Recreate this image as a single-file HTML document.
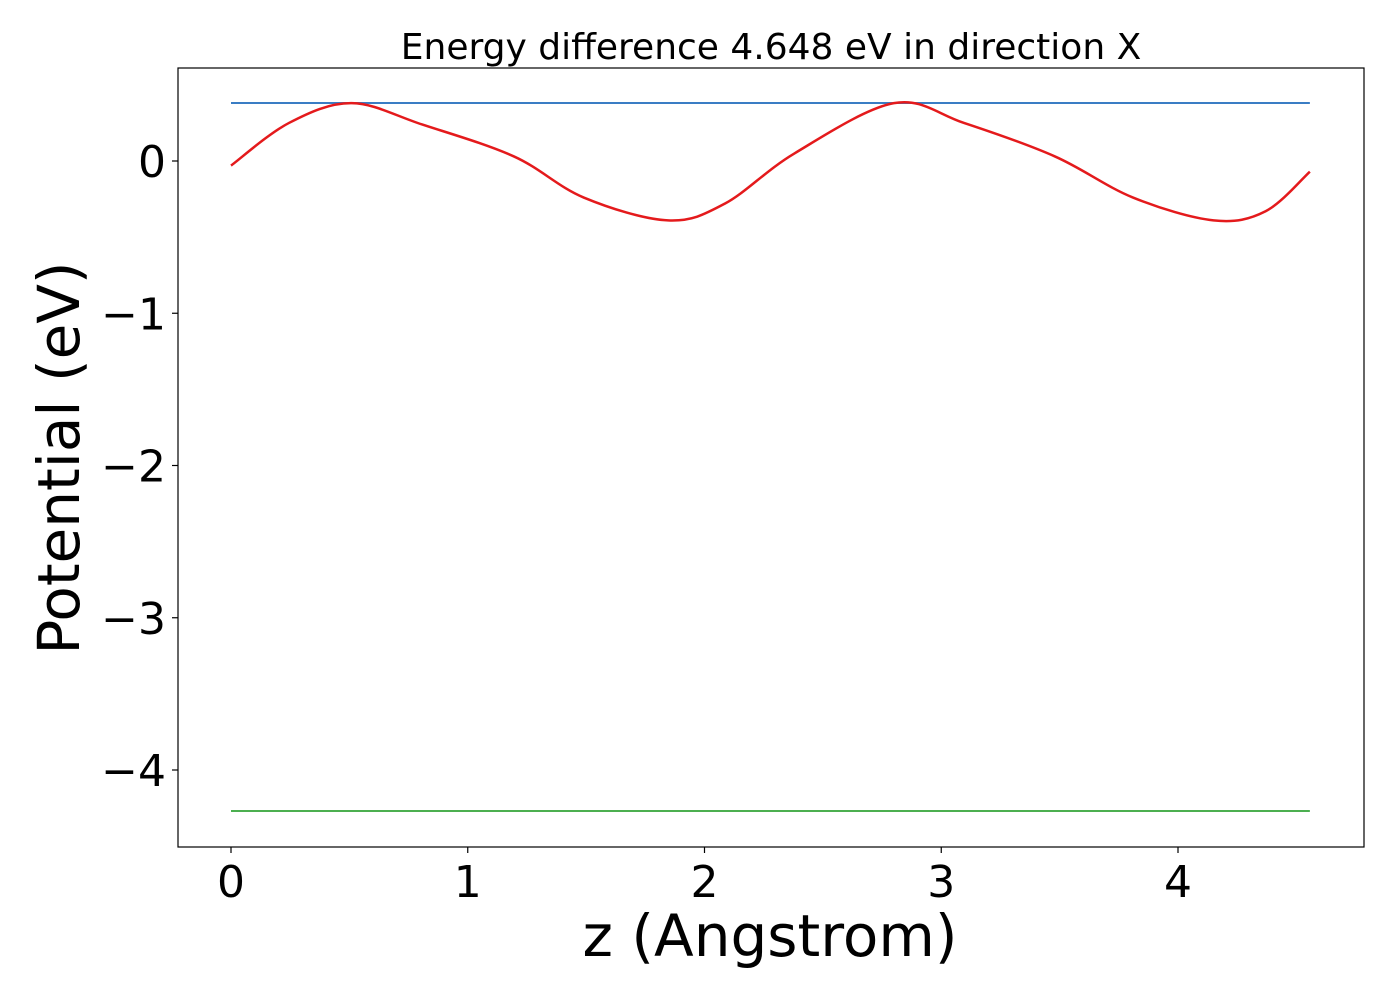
<!DOCTYPE html>
<html><head><meta charset="utf-8"><style>
body{margin:0;background:#fff;}
svg text{font-family:"DejaVu Sans","Liberation Sans",sans-serif;fill:#000;}
</style></head><body>
<svg id="chart" width="1400" height="1000" xmlns="http://www.w3.org/2000/svg">
<rect width="1400" height="1000" fill="#fff"/>
<g id="plot"></g>
</svg>
<script>
const xTicks=[0,1,2,3,4];
const yTicks=[0,-1,-2,-3,-4];
const xTickLabels=["0","1","2","3","4"];
const yTickLabels=["0","\u22121","\u22122","\u22123","\u22124"];
const redZ=[0,0.245,0.51,0.807,1.195,1.49,1.846,2.086,2.38,2.80,3.096,3.48,3.81,4.15,4.37,4.557];
const redV=[-0.03,0.25,0.38,0.24,0.03,-0.24,-0.39,-0.28,0.05,0.38,0.25,0.03,-0.24,-0.39,-0.33,-0.07];
const blueLevel=[0.381];
const greenLevel=[-4.269];
const zRange=[0,4.557];

const NS="http://www.w3.org/2000/svg";
const L=178,R=1364,T=68,B=847;
const X=z=>231+z*236.75;
const Y=v=>161-v*152.25;
const g=document.getElementById('plot');
function mk(tag,attrs,parent){const e=document.createElementNS(NS,tag);for(const k in attrs)e.setAttribute(k,attrs[k]);(parent||g).appendChild(e);return e;}

const bl=mk('line',{x1:X(zRange[0]),x2:X(zRange[1]),y1:Y(blueLevel[0]),y2:Y(blueLevel[0]),stroke:'#3a7dc4','stroke-width':2});


const gl=mk('line',{x1:X(zRange[0]),x2:X(zRange[1]),y1:Y(greenLevel[0]),y2:Y(greenLevel[0]),stroke:'#4caf50','stroke-width':2});



const pts=redZ.map((z,i)=>[X(z),Y(redV[i])]);
let d=`M${pts[0][0]},${pts[0][1]}`;
for(let i=0;i<pts.length-1;i++){
  const p0=pts[Math.max(0,i-1)],p1=pts[i],p2=pts[i+1],p3=pts[Math.min(pts.length-1,i+2)];
  const c1=[p1[0]+(p2[0]-p0[0])/6,p1[1]+(p2[1]-p0[1])/6];
  const c2=[p2[0]-(p3[0]-p1[0])/6,p2[1]-(p3[1]-p1[1])/6];
  d+=` C${c1[0]},${c1[1]} ${c2[0]},${c2[1]} ${p2[0]},${p2[1]}`;
}
const rc=mk('path',{d:d,fill:'none',stroke:'#e41a1c','stroke-width':2.5});



const fr=mk('rect',{x:L,y:T,width:R-L,height:B-T,fill:'none',stroke:'#000','stroke-width':1.2});



xTicks.forEach((t,i)=>{
  const tk=mk('line',{x1:X(t),x2:X(t),y1:B,y2:B+6,stroke:'#000','stroke-width':1.2});
  
  
  const tx=mk('text',{x:X(t),y:B+50,'text-anchor':'middle','font-size':44});
  tx.textContent=xTickLabels[i];
  
  
});
yTicks.forEach((t,i)=>{
  const tk=mk('line',{x1:L-6,x2:L,y1:Y(t),y2:Y(t),stroke:'#000','stroke-width':1.2});
  
  
  const tx=mk('text',{x:L-12,y:Y(t)+16,'text-anchor':'end','font-size':44});
  tx.textContent=yTickLabels[i];
  
  
});
const title=mk('text',{x:771,y:59,'text-anchor':'middle','font-size':36});
title.textContent='Energy difference 4.648 eV in direction X';


const xl=mk('text',{x:770,y:956,'text-anchor':'middle','font-size':58});
xl.textContent='z (Angstrom)';


const yl=mk('text',{x:0,y:0,'text-anchor':'middle','font-size':58,transform:'translate(79,458) rotate(-90)'});
yl.textContent='Potential (eV)';


</script>
</body></html>
